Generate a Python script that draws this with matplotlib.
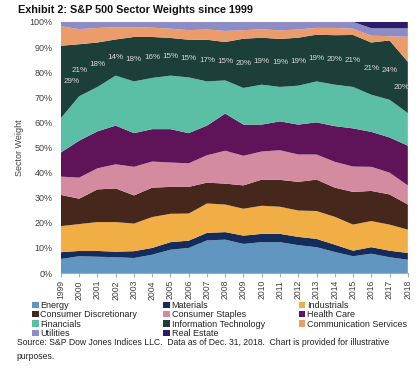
import matplotlib
matplotlib.use("Agg")
import matplotlib.pyplot as plt
import numpy as np

plt.rcParams['font.family'] = ['Liberation Sans', 'DejaVu Sans']

years = list(range(1999, 2019))
sectors = ["Energy", "Materials", "Industrials", "Consumer Discretionary",
           "Consumer Staples", "Health Care", "Financials",
           "Information Technology", "Communication Services", "Utilities",
           "Real Estate"]

energy = [5.6, 6.7, 6.5, 6.3, 6.0, 7.3, 9.3, 10.0, 13.0, 13.3, 11.6, 12.3, 12.3, 11.1, 10.3, 8.4, 6.7, 7.7, 6.3, 5.3]
materials = [2.7, 2.1, 2.3, 2.2, 2.7, 2.7, 3.0, 2.9, 3.0, 3.0, 3.3, 3.3, 3.3, 3.3, 3.3, 2.9, 2.2, 2.6, 2.6, 2.7]
industrials = [10.4, 10.7, 11.5, 11.8, 11.0, 12.3, 11.3, 10.8, 11.7, 11.0, 10.7, 11.2, 10.8, 10.5, 11.1, 11.1, 10.4, 10.4, 10.4, 9.3]
cons_disc = [12.4, 10.1, 13.0, 13.4, 11.2, 11.7, 10.7, 10.6, 8.3, 8.3, 9.3, 10.4, 10.7, 11.4, 12.5, 11.6, 13.0, 12.0, 12.0, 10.0]
cons_staples = [7.3, 8.4, 8.4, 9.6, 11.4, 10.4, 9.7, 9.4, 10.9, 13.1, 11.8, 11.2, 11.8, 10.9, 10.0, 10.3, 10.1, 9.6, 8.7, 7.6]
health_care = [9.6, 14.7, 14.7, 15.4, 13.4, 12.9, 13.3, 12.0, 11.8, 14.8, 12.4, 10.7, 11.5, 11.9, 12.8, 14.2, 15.2, 13.9, 14.0, 15.8]
financials = [13.7, 17.7, 17.7, 19.9, 20.6, 20.4, 21.3, 22.2, 17.6, 13.2, 14.6, 15.9, 13.7, 15.5, 16.3, 16.5, 16.5, 14.8, 15.0, 13.0]
info_tech = [28.8, 20.7, 17.7, 14.4, 17.7, 16.3, 15.0, 15.0, 16.6, 15.3, 19.6, 18.7, 19.1, 19.1, 18.6, 19.7, 20.7, 20.8, 23.6, 20.4]
comm_services = [7.8, 6.0, 5.8, 4.9, 3.9, 3.7, 3.7, 3.8, 4.1, 4.4, 3.4, 3.4, 3.4, 3.3, 2.7, 2.9, 2.5, 2.7, 1.7, 10.0]
utilities = [1.7, 2.9, 2.4, 2.1, 2.1, 2.3, 2.7, 3.3, 3.0, 3.6, 3.3, 2.9, 3.4, 3.0, 2.4, 2.4, 2.7, 3.0, 3.2, 3.4]
real_estate = [0, 0, 0, 0, 0, 0, 0, 0, 0, 0, 0, 0, 0, 0, 0, 0, 0, 2.5, 2.5, 2.5]

series = [energy, materials, industrials, cons_disc, cons_staples, health_care,
          financials, info_tech, comm_services, utilities, real_estate]
colors = ["#6196c0", "#132c5c", "#f0ae45", "#45271b", "#d48ba0", "#5f1358",
          "#5bbfa6", "#1c3f3a", "#ec9b6b", "#8e8cc4", "#2d1b6e"]

fig = plt.figure(figsize=(4.2, 3.71), dpi=100)
ax = fig.add_axes([0.145, 0.264, 0.826, 0.677])

ax.stackplot(years, *series, colors=colors, labels=sectors, linewidth=0)

# IT labels at middle of IT band
cum = np.cumsum(np.array(series), axis=0)
it_idx = sectors.index("Information Technology")
for i, yr in enumerate(years):
    lo = cum[it_idx - 1][i]
    hi = cum[it_idx][i]
    xx = yr
    if i == 0:
        xx = yr + 0.6
    elif i == len(years) - 1:
        xx = yr - 0.35
    ax.text(xx, (lo + hi) / 2, f"{round(info_tech[i]):d}%", color="#d8d8d8",
            fontsize=5.8, ha="center", va="center")

ax.set_xlim(1999, 2018)
ax.set_ylim(0, 100)
ax.set_yticks(range(0, 101, 10))
ax.set_yticklabels([f"{v}%" for v in range(0, 101, 10)], fontsize=6.5, color="#404040")
ax.set_xticks(years)
ax.set_xticklabels([str(y) for y in years], rotation=90, fontsize=6.2, color="#404040")
ax.tick_params(axis="y", length=0, pad=6)
ax.tick_params(axis="x", length=3, color="#aaaaaa", pad=2)
for s in ["top", "right", "left"]:
    ax.spines[s].set_visible(False)
ax.spines["bottom"].set_color("#aaaaaa")
ax.set_ylabel("Sector Weight", fontsize=6.5, color="#404040", labelpad=4)

fig.text(0.043, 0.972, "Exhibit 2: S&P 500 Sector Weights since 1999",
         fontsize=7.8, fontweight="bold", ha="left", va="center", color="#111111")

handles, labels = ax.get_legend_handles_labels()
col_x = [0.077, 0.389, 0.711]
for c in range(3):
    idx = list(range(c, len(handles), 3))
    leg = fig.legend([handles[i] for i in idx], [labels[i] for i in idx],
                     loc="upper left", bbox_to_anchor=(col_x[c], 0.189),
                     ncol=1, fontsize=6.5, frameon=False, handlelength=0.7,
                     handleheight=0.7, handletextpad=0.2,
                     labelspacing=0.05, borderaxespad=0, borderpad=0)
    for t in leg.get_texts():
        t.set_color("#222222")

fig.text(0.04, 0.076, "Source: S&P Dow Jones Indices LLC.  Data as of Dec. 31, 2018.  Chart is provided for illustrative",
         fontsize=6.2, ha="left", va="center", color="#222222")
fig.text(0.04, 0.039, "purposes.", fontsize=6.2, ha="left", va="center", color="#222222")

fig.savefig("out.png", dpi=100)
